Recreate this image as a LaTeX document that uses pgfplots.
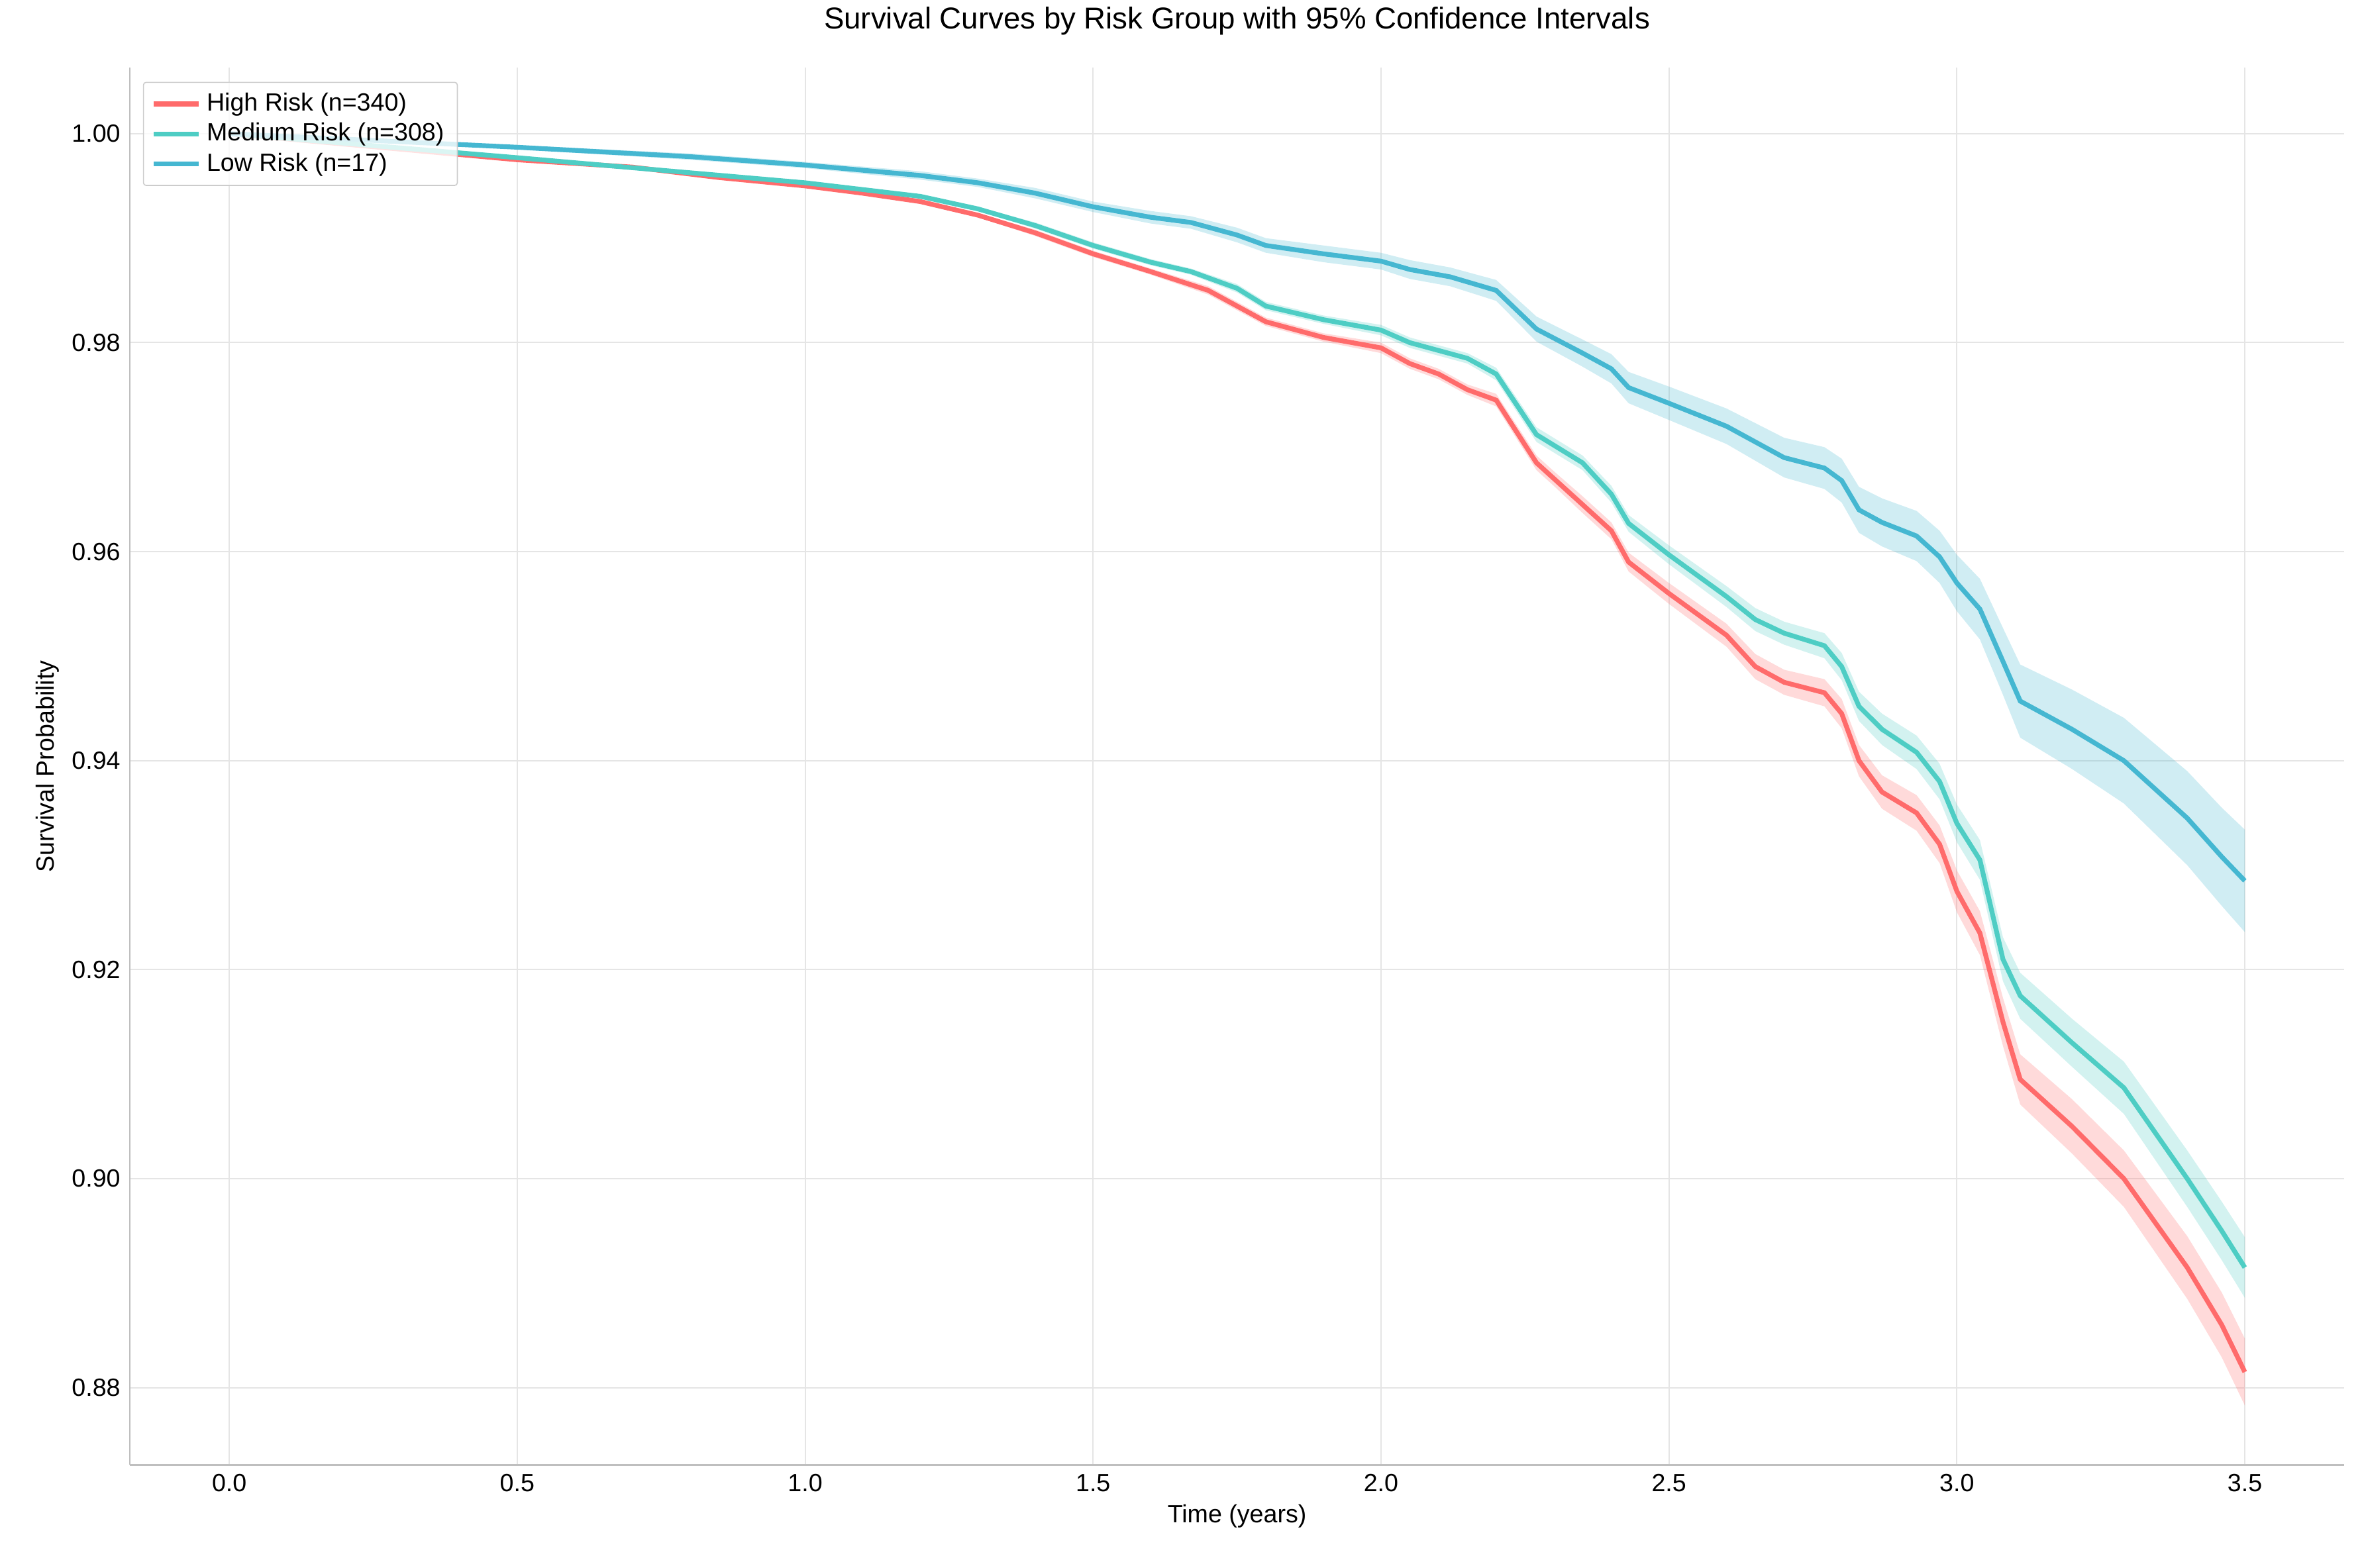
\documentclass[border=0pt]{standalone}
\usepackage{pgfplots}
\pgfplotsset{compat=1.18}
\usepackage{pgfplotstable}
\usepgfplotslibrary{fillbetween}
\usepackage{fontspec}
\setmainfont{Liberation Sans}
\definecolor{hr}{HTML}{FF6B6B}
\definecolor{mr}{HTML}{4ECDC4}
\definecolor{lr}{HTML}{45B7D1}
\pgfplotstableread{
x y h
0 1.0 0
0.5 0.9975 0.0001
0.7 0.9968 0.0001
0.85 0.9958 0.0002
1.0 0.995 0.0002
1.1 0.9943 0.0002
1.2 0.9935 0.0002
1.3 0.9922 0.0002
1.4 0.9905 0.0003
1.5 0.9885 0.0003
1.6 0.9868 0.0003
1.7 0.985 0.0004
1.75 0.9835 0.0004
1.8 0.982 0.0004
1.9 0.9805 0.0004
2.0 0.9795 0.0005
2.05 0.978 0.0005
2.1 0.977 0.0005
2.15 0.9755 0.0005
2.2 0.9745 0.0006
2.27 0.9685 0.0007
2.3 0.967 0.0007
2.35 0.9645 0.0008
2.4 0.962 0.0008
2.43 0.959 0.0009
2.5 0.956 0.001
2.6 0.952 0.0011
2.65 0.949 0.0012
2.7 0.9475 0.0012
2.77 0.9465 0.0013
2.8 0.9445 0.0014
2.83 0.940 0.0015
2.87 0.937 0.0016
2.93 0.935 0.0017
2.97 0.932 0.0018
3.0 0.9275 0.002
3.04 0.9235 0.0021
3.08 0.915 0.0023
3.11 0.9095 0.0024
3.2 0.905 0.0026
3.29 0.900 0.0027
3.4 0.8915 0.003
3.46 0.886 0.0031
3.5 0.8815 0.0032
}\high
\pgfplotstableread{
x y h
0 1.0 0
0.5 0.9977 0.0001
1.0 0.9953 0.0002
1.2 0.994 0.0002
1.3 0.9928 0.0002
1.4 0.9912 0.0003
1.5 0.9893 0.0003
1.6 0.9877 0.0003
1.67 0.9868 0.0003
1.75 0.9852 0.0004
1.8 0.9835 0.0004
1.9 0.9822 0.0004
2.0 0.9812 0.0005
2.05 0.980 0.0005
2.15 0.9785 0.0005
2.2 0.977 0.0006
2.27 0.9712 0.0007
2.35 0.9685 0.0007
2.4 0.9655 0.0008
2.43 0.9627 0.0008
2.5 0.9597 0.0009
2.6 0.9557 0.001
2.65 0.9535 0.0011
2.7 0.9522 0.0011
2.77 0.951 0.0012
2.8 0.949 0.0013
2.83 0.9452 0.0014
2.87 0.943 0.0015
2.93 0.9408 0.0016
2.97 0.938 0.0017
3.0 0.934 0.0018
3.04 0.9305 0.0019
3.08 0.921 0.0021
3.11 0.9175 0.0022
3.2 0.913 0.0023
3.29 0.9087 0.0025
3.4 0.900 0.0027
3.46 0.895 0.0028
3.5 0.8915 0.0029
}\med
\pgfplotstableread{
x y h
0 1.0 0
0.5 0.9987 0.0002
0.8 0.9978 0.0003
1.0 0.997 0.0003
1.2 0.996 0.0004
1.3 0.9953 0.0004
1.4 0.9943 0.0005
1.5 0.993 0.0005
1.6 0.992 0.0006
1.67 0.9915 0.0006
1.75 0.9903 0.0007
1.8 0.9893 0.0007
1.9 0.9885 0.0008
2.0 0.9878 0.0008
2.05 0.987 0.0009
2.12 0.9863 0.0009
2.2 0.985 0.001
2.27 0.9813 0.0012
2.35 0.979 0.0013
2.4 0.9775 0.0014
2.43 0.9757 0.0015
2.5 0.9742 0.0016
2.6 0.972 0.0017
2.65 0.9705 0.0018
2.7 0.969 0.0019
2.77 0.968 0.002
2.8 0.9668 0.0021
2.83 0.964 0.0022
2.87 0.9628 0.0023
2.93 0.9615 0.0024
2.97 0.9595 0.0025
3.0 0.957 0.0027
3.04 0.9545 0.0029
3.08 0.9495 0.0032
3.11 0.9457 0.0035
3.2 0.943 0.0038
3.29 0.940 0.0041
3.4 0.9345 0.0045
3.46 0.9308 0.0047
3.5 0.9285 0.0049
}\low
\begin{document}
\begin{tikzpicture}[font=\fontsize{9.4}{11}\selectfont]
\begin{axis}[
 scale only axis, width=293.8mm, height=185.4mm,
 xmin=-0.173, xmax=3.673, ymin=0.8726, ymax=1.0063,
 axis x line*=bottom, axis y line*=left,
 axis line style={draw=black!25, line width=0.6pt},
 major tick length=0pt,
 xtick={0,0.5,...,3.5}, ytick={0.88,0.90,...,1.0},
 xticklabel style={/pgf/number format/.cd,fixed,fixed zerofill,precision=1},
 yticklabel style={/pgf/number format/.cd,fixed,fixed zerofill,precision=2},
 /pgf/number format/assume math mode=true,
 grid=major, grid style={black!10, line width=0.5pt},
 xlabel={Time (years)}, ylabel={Survival Probability},
 xlabel style={yshift=2pt}, ylabel style={yshift=-2pt},
 title={\fontsize{11.4}{13}\selectfont Survival Curves by Risk Group with 95\% Confidence Intervals},
 title style={yshift=1mm},
 legend style={draw=black!20, rounded corners=1pt, fill=white, fill opacity=0.8, text opacity=1, at={(0.006,0.99)}, anchor=north west, row sep=-1pt},
 legend cell align=left,
]
\addplot[draw=none, forget plot, name path=hl] table[x=x, y expr=\thisrow{y}-\thisrow{h}]{\high};
\addplot[draw=none, forget plot, name path=hu] table[x=x, y expr=\thisrow{y}+\thisrow{h}]{\high};
\addplot[hr, opacity=0.25, forget plot] fill between[of=hl and hu];
\addplot[draw=none, forget plot, name path=ml] table[x=x, y expr=\thisrow{y}-\thisrow{h}]{\med};
\addplot[draw=none, forget plot, name path=mu] table[x=x, y expr=\thisrow{y}+\thisrow{h}]{\med};
\addplot[mr, opacity=0.25, forget plot] fill between[of=ml and mu];
\addplot[draw=none, forget plot, name path=ll] table[x=x, y expr=\thisrow{y}-\thisrow{h}]{\low};
\addplot[draw=none, forget plot, name path=lu] table[x=x, y expr=\thisrow{y}+\thisrow{h}]{\low};
\addplot[lr, opacity=0.25, forget plot] fill between[of=ll and lu];
\addplot[hr, line width=1.8pt] table[x=x,y=y]{\high};
\addlegendentry{High Risk (n=340)}
\addplot[mr, line width=1.8pt] table[x=x,y=y]{\med};
\addlegendentry{Medium Risk (n=308)}
\addplot[lr, line width=1.8pt] table[x=x,y=y]{\low};
\addlegendentry{Low Risk (n=17)}
\end{axis}
\pgfresetboundingbox
\path (current axis.south west) ++(-17.2mm,-13.6mm) rectangle ++(313.6mm,208mm);
\end{tikzpicture}
\end{document}
